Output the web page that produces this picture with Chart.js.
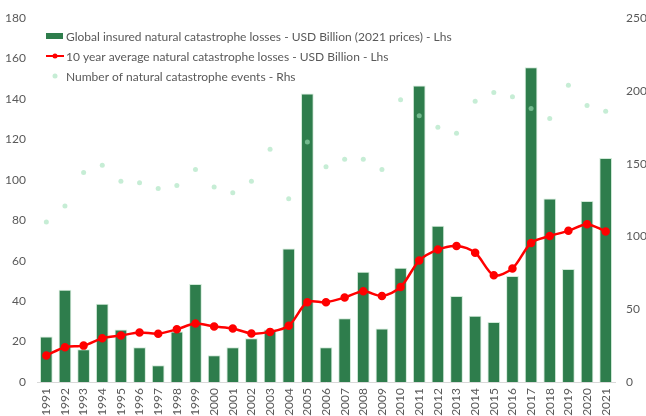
<!DOCTYPE html>
<html>
<head>
<meta charset="utf-8">
<script src="https://cdn.jsdelivr.net/npm/chart.js@4/dist/chart.umd.min.js"></script>
<style>
  html, body { margin: 0; padding: 0; background: #fff; }
  #wrap { width: 646px; height: 416px; }
</style>
</head>
<body>
<div id="wrap"><canvas id="catChart" width="646" height="416"></canvas></div>
<script>
// years on the x axis
const years = ['1991','1992','1993','1994','1995','1996','1997','1998','1999','2000',
  '2001','2002','2003','2004','2005','2006','2007','2008','2009','2010',
  '2011','2012','2013','2014','2015','2016','2017','2018','2019','2020','2021'];

// insured losses, USD bn (2021 prices) - left axis
const losses = [22.5, 45.6, 16.2, 38.7, 26, 17.2, 8.3, 25, 48.5, 13.2,
  17.2, 21.6, 26, 66, 142.8, 17.2, 31.6, 54.6, 26.5, 56.5,
  146.7, 77.3, 42.6, 32.8, 29.7, 52.5, 155.7, 90.8, 55.9, 89.5, 110.8];

// 10 year average of losses - left axis
const avg10 = [13.1, 17.2, 18, 21.6, 23, 24.5, 23.9, 26.1, 28.9, 27.5,
  26.5, 24, 24.8, 27.8, 39.5, 39.5, 41.8, 44.9, 42.6, 47,
  60.1, 65.5, 67.3, 63.9, 52.8, 56.2, 68.8, 72.2, 74.8, 78.1, 74.5];

// number of events - right axis
const events = [110, 121, 144, 149, 138, 137, 133, 135, 146, 134,
  130, 138, 160, 126, 165, 148, 153, 153, 146, 194,
  183, 175, 171, 193, 199, 196, 188, 181, 204, 190, 186];

const leftTicks = [0, 20, 40, 60, 80, 100, 120, 140, 160, 180];
const rightTicks = [0, 50, 100, 150, 200, 250];

const labels = [
  'Global insured natural catastrophe losses - USD Billion (2021 prices) - Lhs',
  '10 year average natural catastrophe losses - USD Billion - Lhs',
  'Number of natural catastrophe events - Rhs'
];

const textGrey = '#595959';
const barGreen = '#2e7d4c';
const dotGreen = 'rgba(160, 225, 185, 0.6)';
const font = { family: 'Lato, "Open Sans", sans-serif', size: 12 };

// legend sits inside the plot, top left
const insideLegend = {
  id: 'insideLegend',
  afterDraw(chart) {
    const ctx = chart.ctx;
    const x0 = chart.chartArea.left + 9;
    const rows = [36, 56, 76];
    ctx.save();
    ctx.font = '12px ' + font.family;
    ctx.fillStyle = textGrey;
    ctx.textBaseline = 'middle';
    rows.forEach((y, i) => ctx.fillText(labels[i], x0 + 20, y + 1));

    ctx.fillStyle = barGreen;
    ctx.fillRect(x0, rows[0] - 3, 17, 6);

    ctx.strokeStyle = '#ff0000';
    ctx.lineWidth = 2;
    ctx.beginPath();
    ctx.moveTo(x0, rows[1]);
    ctx.lineTo(x0 + 18, rows[1]);
    ctx.stroke();
    ctx.fillStyle = '#ff0000';
    ctx.beginPath();
    ctx.arc(x0 + 9, rows[1], 2.5, 0, Math.PI * 2);
    ctx.fill();

    ctx.fillStyle = dotGreen;
    ctx.beginPath();
    ctx.arc(x0 + 9, rows[2], 2.5, 0, Math.PI * 2);
    ctx.fill();
    ctx.restore();
  }
};

new Chart(document.getElementById('catChart'), {
  type: 'bar',
  data: {
    labels: years,
    datasets: [
      {
        type: 'scatter',
        label: labels[2],
        data: events,
        yAxisID: 'yR',
        showLine: false,
        pointRadius: 2.5,
        pointBackgroundColor: dotGreen,
        pointBorderWidth: 0,
        order: 0
      },
      {
        type: 'line',
        label: labels[1],
        data: avg10,
        yAxisID: 'y',
        borderColor: '#ff0000',
        borderWidth: 2.5,
        pointRadius: 3,
        pointBackgroundColor: '#ff0000',
        pointBorderColor: '#ff0000',
        tension: 0.3,
        order: 1
      },
      {
        label: labels[0],
        data: losses,
        yAxisID: 'y',
        backgroundColor: barGreen,
        borderColor: 'rgba(190, 225, 200, 0.7)',
        borderWidth: { top: 1, left: 1, right: 1, bottom: 0 },
        categoryPercentage: 1,
        barPercentage: 0.68,
        order: 2
      }
    ]
  },
  options: {
    responsive: false,
    animation: false,
    layout: { padding: { top: 8, left: 0, right: 0, bottom: 0 } },
    plugins: {
      legend: { display: false },
      tooltip: { enabled: false }
    },
    scales: {
      x: {
        type: 'category',
        offset: true,
        grid: { display: false, drawTicks: false },
        border: { display: true, color: '#d9d9d9', width: 1 },
        ticks: { color: textGrey, font: font, maxRotation: 90, minRotation: 90, padding: 6, autoSkip: false },
        afterFit(scale) { scale.height = 34; }
      },
      y: {
        position: 'left',
        min: 0,
        max: 180,
        afterBuildTicks(scale) { scale.ticks = leftTicks.map(v => ({ value: v })); },
        grid: { display: false, drawTicks: false },
        border: { display: false },
        ticks: { color: textGrey, font: font, padding: 11 },
        afterFit(scale) { scale.width = 37; }
      },
      yR: {
        position: 'right',
        min: 0,
        max: 250,
        afterBuildTicks(scale) { scale.ticks = rightTicks.map(v => ({ value: v })); },
        grid: { display: false, drawTicks: false },
        border: { display: false },
        ticks: { color: textGrey, font: font, padding: 11 },
        afterFit(scale) { scale.width = 31; }
      }
    }
  },
  plugins: [insideLegend]
});
</script>
</body>
</html>
